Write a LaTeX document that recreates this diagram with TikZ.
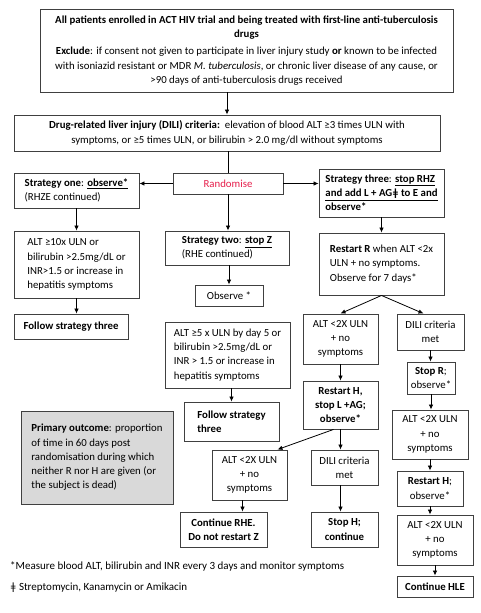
\documentclass[tikz,border=0pt]{standalone}
\usepackage{fontspec}
\setmainfont{Carlito}
\usetikzlibrary{arrows.meta,calc}
\definecolor{randred}{RGB}{230,30,75}
\definecolor{outc}{RGB}{217,217,217}
\definecolor{edge}{RGB}{64,64,64}
\newcommand{\bx}[7][]{%
  \pgfmathsetmacro\bxcx{(#3+#5)/2}\pgfmathsetmacro\bxcy{(#4+#6)/2}%
  \pgfmathsetmacro\bxw{#5-#3}\pgfmathsetmacro\bxh{#6-#4}%
  \node[box,#1,minimum width=\bxw pt,minimum height=\bxh pt] (#2) at (\bxcx,\bxcy) {#7};}
\begin{document}
\begin{tikzpicture}[x=1pt,y=-1pt,
  box/.style={draw=edge,line width=0.9pt,inner sep=1pt,font=\fontsize{10.8}{14.2}\selectfont,align=center},
  lft/.style={align=left},
  arr/.style={draw=black,line width=0.8pt,-{Latex[length=5pt,width=4.5pt]}},
  ln/.style={draw=black,line width=0.8pt},
  note/.style={anchor=west,inner sep=0pt,font=\fontsize{11}{14}\selectfont}]
\useasboundingbox[fill=white] (0,0) rectangle (481,613);
\bx{top}{40}{9}{453}{92}{\textbf{All patients enrolled in ACT HIV trial and being treated with first-line anti-tuberculosis}\\ \textbf{drugs}\\[3pt] \textbf{Exclude}: if consent not given to participate in liver injury study \textbf{or} known to be infected\\ with isoniazid resistant or MDR \textit{M. tuberculosis}, or chronic liver disease of any cause, or\\ >90 days of anti-tuberculosis drugs received}
\bx{dili}{14}{115}{440}{151}{\textbf{Drug-related liver injury (DILI) criteria:}\ \ elevation of blood ALT ≥3 times ULN with\\ symptoms, or ≥5 times ULN, or bilirubin > 2.0 mg/dl without symptoms}
\bx[text=randred]{ran}{173}{173}{283}{194}{Randomise}
\bx[lft]{s1}{14}{173}{139}{208}{\textbf{Strategy one}: \textbf{\underline{observe*}}\\ (RHZE continued)}
\bx[lft]{s3}{319}{169}{444}{217}{\textbf{Strategy three}: \textbf{\underline{stop RHZ}}\\ \textbf{\underline{and add L + AGǂ to E and}}\\ \textbf{observe*}}
\bx[lft]{s2}{165}{231}{289}{265}{\textbf{Strategy two}: \textbf{\underline{stop Z}}\\ (RHE continued)}
\bx{obs}{195}{285}{263}{306}{Observe *}
\bx[lft]{alt10}{14}{231}{139}{298}{ALT ≥10x ULN or\\ bilirubin >2.5mg/dL or\\ INR>1.5 or increase in\\ hepatitis symptoms}
\bx[lft]{fs3a}{14}{314}{128}{339}{\textbf{Follow strategy three}}
\bx[lft]{rr}{319}{233}{444}{295}{\textbf{Restart R} when ALT <2x\\ ULN + no symptoms.\\ Observe for 7 days*}
\bx{alt2a}{303}{314}{378}{364}{ALT <2X ULN\\ + no\\ symptoms}
\bx{dmA}{397}{314}{464}{350}{DILI criteria\\ met}
\bx{rh}{303}{381}{378}{429}{\textbf{Restart H,}\\ \textbf{stop L +AG;}\\ \textbf{observe*}}
\bx{stopR}{407}{362}{455}{394}{\textbf{Stop R};\\ observe*}
\bx{alt2b}{392}{410}{468}{459}{ALT <2X ULN\\ + no\\ symptoms}
\bx{rhb}{397}{471}{463}{506}{\textbf{Restart H};\\ observe*}
\bx{alt2c}{397}{515}{473}{565}{ALT <2X ULN\\ + no\\ symptoms}
\bx{chle}{397}{576}{473}{597}{\textbf{Continue HLE}}
\bx{dmB}{311}{450}{378}{485}{DILI criteria\\ met}
\bx{sh}{311}{512}{378}{547}{\textbf{Stop H;}\\ \textbf{continue}}
\bx{alt2d}{212}{450}{287}{500}{ALT <2X ULN\\ + no\\ symptoms}
\bx{crhe}{180}{512}{267}{547}{\textbf{Continue RHE.}\\ \textbf{Do not restart Z}}
\bx[lft]{alt5}{165}{322}{290}{388}{ALT ≥5 x ULN by day 5 or\\ bilirubin >2.5mg/dL or\\ INR > 1.5 or increase in\\ hepatitis symptoms}
\bx[lft]{fs3b}{184}{402}{279}{441}{\textbf{Follow strategy}\\ \textbf{three}}
\bx[lft,fill=outc]{po}{21}{411}{173}{504}{\textbf{Primary outcome}: proportion\\ of time in 60 days post\\ randomisation during which\\ neither R nor H are given (or\\ the subject is dead)}
\node[note] (fn1) at (10,566) {*Measure blood ALT, bilirubin and INR every 3 days and monitor symptoms};
\node[note] (fn2) at (10,588) {ǂ Streptomycin, Kanamycin or Amikacin};
% connectors
\coordinate (c1) at ($(alt2d.south)+(-7,0)$);
\coordinate (c2) at ($(rh.south)+(-7,0)$);
\coordinate (c3) at ($(alt2d.north east)+(-10,0)$);
\coordinate (c4) at ($(dmA.north)+(-7,0)$);
\draw[arr] (top.south -| dili.north) -- (dili.north);
\draw[ln] (dili.south -| ran.north) -- (ran.north);
\draw[arr] (ran.west) -- (ran.west -| s1.east);
\draw[arr] (ran.east) -- (ran.east -| s3.west);
\draw[arr] (ran.south) -- (ran.south |- s2.north);
\draw[arr] (s2.south -| obs.north) -- (obs.north);
\draw[arr] (s1.south) -- (alt10.north);
\draw[arr] (alt10.south) -- (alt10.south |- fs3a.north);
\draw[arr] (s3.south) -- (s3.south |- rr.north);
\draw[arr] (rr.south) -- (alt2a.north);
\draw[arr] (rr.south) -- (c4);
\draw[arr] (alt2a.south) -- (rh.north);
\draw[arr] (dmA.south) -- (dmA.south |- stopR.north);
\draw[arr] (stopR.south) -- (stopR.south |- alt2b.north);
\draw[arr] (alt2b.south) -- (alt2b.south |- rhb.north);
\draw[arr] (rhb.south) -- (rhb.south |- alt2c.north);
\draw[arr] (alt2c.south) -- (alt2c.south |- chle.north);
\draw[arr] (rh.south) -- (rh.south |- dmB.north);
\draw[arr] (c2) -- (c3);
\draw[arr] (c1) -- (c1 |- crhe.north);
\draw[arr] (dmB.south -| rh.south) -- (rh.south |- sh.north);
\draw[arr] (alt5.south -| fs3b.north) -- (fs3b.north);
\end{tikzpicture}
\end{document}
